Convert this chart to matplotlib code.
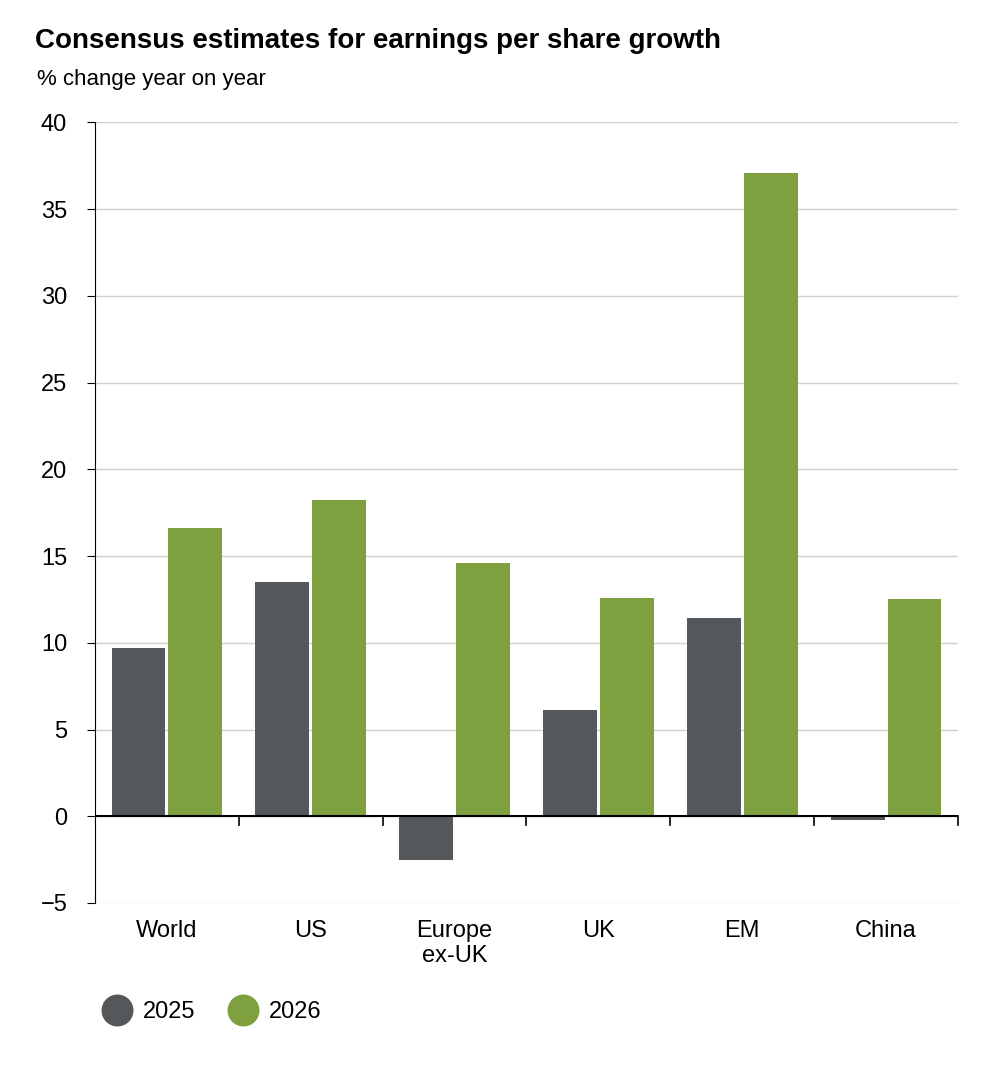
import matplotlib
matplotlib.use("Agg")
import matplotlib.pyplot as plt
from matplotlib.lines import Line2D
import numpy as np

plt.rcParams['font.family'] = ['Liberation Sans', 'DejaVu Sans']

regions = ['World', 'US', 'Europe\nex-UK', 'UK', 'EM', 'China']
eps_2025 = [9.7, 13.5, -2.5, 6.1, 11.4, -0.2]
eps_2026 = [16.6, 18.2, 14.6, 12.6, 37.1, 12.5]

grey = '#54585a'
green = '#7fa03f'

fig = plt.figure(figsize=(10, 10.68), dpi=100)
ax = fig.add_axes([0.095, 0.1545, 0.863, 0.731])

x = np.arange(len(regions))
w = 0.375
ax.bar(x - w / 2 - 0.01, eps_2025, w, color=grey, zorder=3)
ax.bar(x + w / 2 + 0.01, eps_2026, w, color=green, zorder=3)

ax.set_xlim(-0.5, len(regions) - 0.5)
ax.set_ylim(-5, 40)
ax.set_yticks(range(-5, 41, 5))
ax.yaxis.grid(True, color='#d0d0d0', linewidth=1, zorder=0)
ax.tick_params(axis='y', length=6, labelsize=17, pad=14)
ax.tick_params(axis='x', length=0, labelsize=17, pad=12)
ax.set_xticks(x)
ax.set_xticklabels(regions, va='top')

for s in ['top', 'right', 'bottom']:
    ax.spines[s].set_visible(False)
ax.spines['left'].set_color('black')
ax.axhline(0, color='black', linewidth=1.5, zorder=4)
for b in np.arange(0.5, len(regions), 1.0):
    ax.plot([b, b], [0, -0.5], color='black', linewidth=1.2, zorder=4, clip_on=False)

fig.text(0.035, 0.962, 'Consensus estimates for earnings per share growth',
         fontsize=20, fontweight='bold', va='center')
fig.text(0.037, 0.926, '% change year on year', fontsize=16, va='center')

handles = [Line2D([], [], marker='o', linestyle='', markersize=22, color=grey),
           Line2D([], [], marker='o', linestyle='', markersize=22, color=green)]
fig.legend(handles, ['2025', '2026'], loc='center left', bbox_to_anchor=(0.072, 0.052),
           ncol=2, frameon=False, fontsize=17, handletextpad=0.1, columnspacing=1.0)

fig.savefig('out.png', dpi=100)
